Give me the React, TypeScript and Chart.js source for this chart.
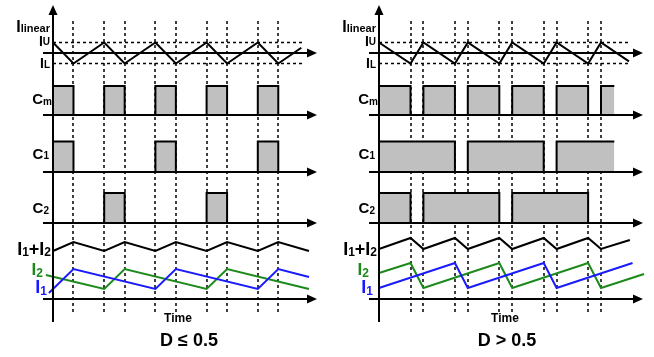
import React, { useEffect, useRef } from "react";
import { Chart, registerables } from "chart.js";

Chart.register(...registerables);

// ---------- data (time in switching periods, signals in arbitrary units) ----------
// Left panel: D <= 0.5
const L_LIN_T = [0, 0.4, 1, 1.4, 2, 2.4, 3, 3.4, 4, 4.4, 4.85];
const L_LIN = [1, -1, 1, -1, 1, -1, 1, -1, 1, -1, 0.5];
const L_CM_T = [0, 0, 0.4, 1, 1.4, 2, 2.4, 3, 3.4, 4, 4.4];
const L_CM = [0, 1, 0, 1, 0, 1, 0, 1, 0, 1, 0];
const L_C1_T = [0, 0, 0.4, 2, 2.4, 4, 4.4];
const L_C1 = [0, 1, 0, 1, 0, 1, 0];
const L_C2_T = [1, 1, 1.4, 3, 3.4];
const L_C2 = [0, 1, 0, 1, 0];
const L_SUM_T = [0, 0.4, 1, 1.4, 2, 2.4, 3, 3.4, 4, 4.4, 5.0];
const L_SUM = [4.8, 5.7, 4.8, 5.7, 4.8, 5.7, 4.8, 5.7, 4.8, 5.7, 4.8];
const L_I1_T = [-0.08, 0.4, 2, 2.4, 4, 4.4, 5.0];
const L_I1 = [0.6, 3.0, 1.0, 3.0, 1.0, 3.0, 2.2];
const L_I2_T = [-0.14, 1, 1.4, 3, 3.4, 5.0];
const L_I2 = [2.4, 1.0, 3.0, 1.0, 3.0, 1.0];
const L_EDGES = [0.4, 1, 1.4, 2, 2.4, 3, 3.4, 4, 4.4];
const L_THRESH_END = 4.9;

// Right panel: D > 0.5
const R_LIN_T = [0, 0.71, 1, 1.71, 2, 2.71, 3, 3.71, 4, 4.71, 5, 5.63];
const R_LIN = [1, -1, 1, -1, 1, -1, 1, -1, 1, -1, 1, -0.8];
const R_CM_T = [0, 0, 0.71, 1, 1.71, 2, 2.71, 3, 3.71, 4, 4.71, 5, 5.3];
const R_CM = [0, 1, 0, 1, 0, 1, 0, 1, 0, 1, 0, 1, 1];
const R_C1_T = [0, 0, 1.71, 2, 3.71, 4, 5.3];
const R_C1 = [0, 1, 0, 1, 0, 1, 1];
const R_C2_T = [0, 0, 0.71, 1, 2.71, 3, 4.71];
const R_C2 = [0, 1, 0, 1, 0, 1, 0];
const R_SUM_T = [0, 0.71, 1, 1.71, 2, 2.71, 3, 3.71, 4, 4.71, 5, 5.65];
const R_SUM = [5.0, 6.1, 5.0, 6.1, 5.0, 6.1, 5.0, 6.1, 5.0, 6.1, 5.0, 5.9];
const R_I1_T = [0, 1.71, 2, 3.71, 4, 5.71];
const R_I1 = [1.1, 3.6, 1.1, 3.6, 1.1, 3.6];
const R_I2_T = [0, 0.71, 1, 2.71, 3, 4.71, 5, 5.97];
const R_I2 = [2.6, 3.6, 1.1, 3.6, 1.1, 3.6, 1.1, 2.5];
const R_EDGES = [0.71, 1, 1.71, 2, 2.71, 3, 3.71, 4, 4.71, 5];
const R_THRESH_END = 5.63;

const I_U = 1;
const I_L = -1;

const TITLES = ["D \u2264 0.5", "D > 0.5"];
const X_LABEL = "Time";

// ---------- layout / style ----------
const W = 654;
const H = 357;
const GREEN = "#1b8a1b";
const BLUE = "#1a1aff";
const GRAY = "#c0c0c0";
const FONT = '"Liberation Sans", Arial, sans-serif';

function xScale(origin: number, unitPx: number) {
  return { type: "linear", display: false, bounds: "data", min: -origin / unitPx, max: (W - origin) / unitPx };
}
function yScale(base: number, unitPx: number) {
  return { type: "linear", display: false, bounds: "data", min: -(H - base) / unitPx, max: base / unitPx };
}

function pts(T: number[], V: number[]) {
  return T.map((t, i) => ({ x: t, y: V[i] }));
}

function line(T: number[], V: number[], xAxisID: string, yAxisID: string, color: string, extra: any = {}) {
  return {
    data: pts(T, V),
    xAxisID,
    yAxisID,
    borderColor: color,
    borderWidth: 2,
    pointRadius: 0,
    tension: 0,
    fill: false,
    borderJoinStyle: "miter",
    borderCapStyle: "butt",
    ...extra,
  };
}
function pulse(T: number[], V: number[], xAxisID: string, yAxisID: string) {
  return line(T, V, xAxisID, yAxisID, "#000", { stepped: "before", fill: "origin", backgroundColor: GRAY });
}
function thresh(end: number, v: number, xAxisID: string) {
  return line([0, end], [v, v], xAxisID, "yLin", "#000", { borderWidth: 1.5, borderDash: [3, 3] });
}

const PANELS = [
  { xId: "xL", edges: L_EDGES, title: TITLES[0], titleDx: 136, timeDx: 125 },
  { xId: "xR", edges: R_EDGES, title: TITLES[1], titleDx: 128, timeDx: 126 },
];

type Part = [string, number, number];
const ROW_LABELS: { parts: Part[]; dr: number; color: string }[] = [
  { parts: [["I", 16, 32], ["linear", 11, 32]], dr: 3, color: "#000" },
  { parts: [["I", 14, 46], ["U", 10, 45]], dr: 3, color: "#000" },
  { parts: [["I", 14, 68], ["L", 10, 68]], dr: 3, color: "#000" },
  { parts: [["C", 15, 104], ["m", 10, 105]], dr: 1, color: "#000" },
  { parts: [["C", 15, 159], ["1", 10, 159]], dr: 4, color: "#000" },
  { parts: [["C", 15, 213], ["2", 10, 214]], dr: 4, color: "#000" },
  { parts: [["I", 18, 255], ["1", 12, 256], ["+", 18, 255], ["I", 18, 255], ["2", 12, 256]], dr: 2, color: "#000" },
  { parts: [["I", 17, 275], ["2", 12, 277]], dr: 10, color: GREEN },
  { parts: [["I", 18, 293], ["1", 12, 295]], dr: 6, color: BLUE },
];

function drawRich(ctx: CanvasRenderingContext2D, parts: Part[], right: number, color: string) {
  const widths = parts.map(([t, s]) => {
    ctx.font = `bold ${s}px ${FONT}`;
    return ctx.measureText(t).width;
  });
  let x = right - widths.reduce((a, b) => a + b, 0);
  ctx.fillStyle = color;
  ctx.textAlign = "left";
  ctx.textBaseline = "alphabetic";
  parts.forEach(([t, s, y], i) => {
    ctx.font = `bold ${s}px ${FONT}`;
    ctx.fillText(t, x, y);
    x += widths[i];
  });
}

function arrowH(ctx: CanvasRenderingContext2D, x0: number, x1: number, y: number) {
  ctx.beginPath();
  ctx.moveTo(x0, y);
  ctx.lineTo(x1 - 8, y);
  ctx.stroke();
  ctx.beginPath();
  ctx.moveTo(x1, y);
  ctx.lineTo(x1 - 10, y - 4.5);
  ctx.lineTo(x1 - 10, y + 4.5);
  ctx.closePath();
  ctx.fill();
}
function arrowV(ctx: CanvasRenderingContext2D, x: number, y0: number, y1: number) {
  ctx.beginPath();
  ctx.moveTo(x, y0);
  ctx.lineTo(x, y1 + 8);
  ctx.stroke();
  ctx.beginPath();
  ctx.moveTo(x, y1);
  ctx.lineTo(x - 4.5, y1 + 10);
  ctx.lineTo(x + 4.5, y1 + 10);
  ctx.closePath();
  ctx.fill();
}

const diagramPlugin = {
  id: "diagram",
  beforeDatasetsDraw(chart: any) {
    const ctx = chart.ctx as CanvasRenderingContext2D;
    ctx.save();
    ctx.strokeStyle = "#000";
    ctx.lineWidth = 1.5;
    ctx.setLineDash([3, 3]);
    for (const p of PANELS) {
      const xs = chart.scales[p.xId];
      for (const t of p.edges) {
        const x = Math.round(xs.getPixelForValue(t));
        ctx.beginPath();
        ctx.moveTo(x, 21);
        ctx.lineTo(x, 312);
        ctx.stroke();
      }
    }
    ctx.restore();
  },
  afterDatasetsDraw(chart: any) {
    const ctx = chart.ctx as CanvasRenderingContext2D;
    ctx.save();
    ctx.strokeStyle = "#000";
    ctx.fillStyle = "#000";
    ctx.lineWidth = 2;
    ctx.setLineDash([]);
    const rows = ["yLin", "yCm", "yC1", "yC2", "yI"];
    for (const p of PANELS) {
      const ax = Math.round(chart.scales[p.xId].getPixelForValue(0));
      for (const r of rows) {
        const y = Math.round(chart.scales[r].getPixelForValue(0));
        arrowH(ctx, ax - 10, ax + 264, y);
      }
      arrowV(ctx, ax, 322, 5);
      for (const lab of ROW_LABELS) drawRich(ctx, lab.parts, ax - lab.dr, lab.color);
      ctx.fillStyle = "#000";
      ctx.textAlign = "center";
      ctx.textBaseline = "middle";
      ctx.font = `bold 12px ${FONT}`;
      ctx.fillText(X_LABEL, ax + p.timeDx, 319);
      ctx.font = `bold 18px ${FONT}`;
      ctx.fillText(p.title, ax + p.titleDx, 341);
    }
    ctx.restore();
  },
};

export default function App() {
  const ref = useRef<HTMLCanvasElement | null>(null);
  useEffect(() => {
    if (!ref.current) return;
    const chart = new Chart(ref.current, {
      type: "line",
      data: {
        datasets: [
          // left
          line(L_LIN_T, L_LIN, "xL", "yLin", "#000"),
          thresh(L_THRESH_END, I_U, "xL"),
          thresh(L_THRESH_END, I_L, "xL"),
          pulse(L_CM_T, L_CM, "xL", "yCm"),
          pulse(L_C1_T, L_C1, "xL", "yC1"),
          pulse(L_C2_T, L_C2, "xL", "yC2"),
          line(L_SUM_T, L_SUM, "xL", "yI", "#000"),
          line(L_I1_T, L_I1, "xL", "yI", BLUE),
          line(L_I2_T, L_I2, "xL", "yI", GREEN),
          // right
          line(R_LIN_T, R_LIN, "xR", "yLin", "#000"),
          thresh(R_THRESH_END, I_U, "xR"),
          thresh(R_THRESH_END, I_L, "xR"),
          pulse(R_CM_T, R_CM, "xR", "yCm"),
          pulse(R_C1_T, R_C1, "xR", "yC1"),
          pulse(R_C2_T, R_C2, "xR", "yC2"),
          line(R_SUM_T, R_SUM, "xR", "yI", "#000"),
          line(R_I1_T, R_I1, "xR", "yI", BLUE),
          line(R_I2_T, R_I2, "xR", "yI", GREEN),
        ] as any,
      },
      options: {
        responsive: false,
        animation: false,
        events: [],
        layout: { padding: 0 },
        plugins: { legend: { display: false }, tooltip: { enabled: false }, title: { display: false } },
        scales: {
          xL: xScale(53, 51.2),
          xR: xScale(379, 44.4),
          yLin: yScale(53, 10.5),
          yCm: yScale(115, 29),
          yC1: yScale(172, 30.5),
          yC2: yScale(223, 30),
          yI: yScale(299, 10),
        } as any,
      },
      plugins: [diagramPlugin],
    } as any);
    return () => chart.destroy();
  }, []);
  return (
    <div style={{ position: "absolute", left: 0, top: 0, width: W, height: H, background: "#fff" }}>
      <canvas ref={ref} width={W} height={H} style={{ display: "block" }} />
    </div>
  );
}
